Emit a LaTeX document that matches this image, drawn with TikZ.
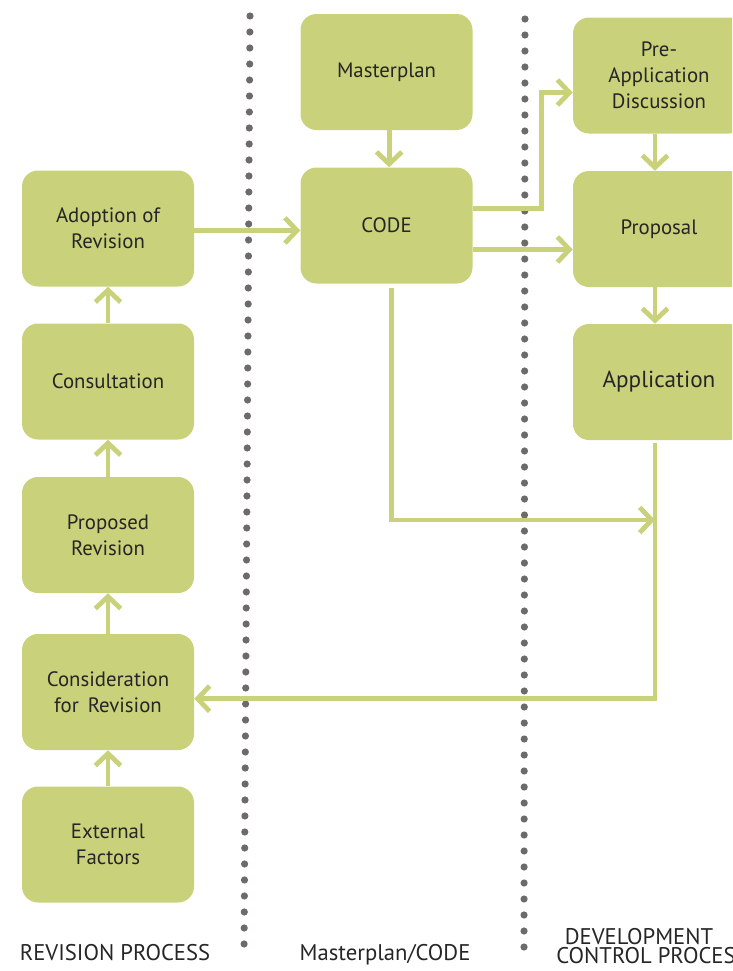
\documentclass[tikz,border=0pt]{standalone}
\usepackage{fontspec}
\setmainfont{PT Sans}
\usetikzlibrary{arrows.meta}
\definecolor{boxgreen}{HTML}{C9D17A}
\definecolor{linkgreen}{HTML}{C9D17A}
\definecolor{dotgray}{HTML}{6F6A6A}
\definecolor{ink}{HTML}{262626}
\begin{document}
\begin{tikzpicture}[x=0.75pt,y=-0.75pt,
  stepbox/.style={fill=boxgreen, draw=none, rounded corners=12pt,
    minimum width=129pt, minimum height=87pt, inner sep=0pt,
    align=center, text=ink, font=\fontsize{15.6}{19.5}\selectfont},
  flow/.style={draw=linkgreen, line width=3.6pt,
    -{Straight Barb[length=9pt,width=19pt]}},
  plain/.style={draw=linkgreen, line width=3.6pt},
  sep/.style={draw=dotgray, line width=5.4pt, line cap=round,
    dash pattern=on 0pt off 12pt},
  lane/.style={text=ink, font=\fontsize{17}{17}\selectfont, inner sep=0pt}]

\useasboundingbox (0,0) rectangle (732,971);
\clip (0,0) rectangle (732,971);

% lane separators
\coordinate (s1a) at (250,16);
\coordinate (s1b) at (244,959);
\coordinate (s2a) at (525,19);
\coordinate (s2b) at (524,962);
\draw[sep] (s1a) -- (s1b);
\draw[sep] (s2a) -- (s2b);

% revision process
\node[stepbox] (adopt)    at (108,228.5) {Adoption of\\Revision};
\node[stepbox] (consult)  at (108,381.5) {Consultation};
\node[stepbox] (proposed) at (108,535)   {Proposed\\Revision};
\node[stepbox] (consid)   at (108,692)   {Consideration\\for\ \,Revision};
\node[stepbox] (external) at (108,844.5) {External\\Factors};

% masterplan / code
\node[stepbox] (master) at (386.5,72)  {Masterplan};
\node[stepbox] (code)   at (386.5,225.5) {CODE};

% development control (runs off the right edge)
\node[stepbox] (preapp)   at (659,75.5)  {Pre-\\Application\\Discussion};
\node[stepbox] (proposal) at (659,229)   {Proposal};
\node[stepbox, font=\fontsize{17.4}{20}\selectfont] (application) at (659,382) {Application};

% lane titles
\node[lane] (t1)  at (115,953) {REVISION PROCESS};
\node[lane] (t2)  at (385,955) {Masterplan/CODE};
\node[lane] (t3a) at (639,937) {DEVELOPMENT};
\node[lane] (t3b) at (652,956) {CONTROL PROCESS};

% revision chain
\draw[flow] (external.north) -- (consid.south);
\draw[flow] (consid.north) -- (proposed.south);
\draw[flow] (proposed.north) -- (consult.south);
\draw[flow] (consult.north) -- (adopt.south);

% adoption feeds the code
\draw[flow] ([yshift=-1.5pt]adopt.east) -- ([yshift=-1.5pt]adopt.east -| code.west);
\draw[flow] ([xshift=2pt]master.south) -- ([xshift=2pt]code.north);

% code to development control
\draw[flow] ([yshift=12.75pt]code.east) -- ++(69,0) |- ([yshift=-12.75pt]preapp.west);
\draw[flow] ([yshift=-18pt]code.east) -- ([yshift=-18pt]code.east -| proposal.west);
\draw[flow] ([xshift=-3pt]preapp.south) -- ([xshift=-3pt]proposal.north);
\draw[flow] ([xshift=-3pt]proposal.south) -- ([xshift=-3pt]application.north);

% feedback loop
\coordinate (junc) at (655,520);
\draw[plain] ([xshift=3.5pt,yshift=-3pt]code.south) |- ([xshift=-2pt]junc);
\draw[flow] ([xshift=3.5pt]code.south |- junc) -- (junc);
\draw[flow] ([xshift=-3pt,yshift=-2pt]application.south) |- ([yshift=-5pt]consid.east);

\end{tikzpicture}
\end{document}
